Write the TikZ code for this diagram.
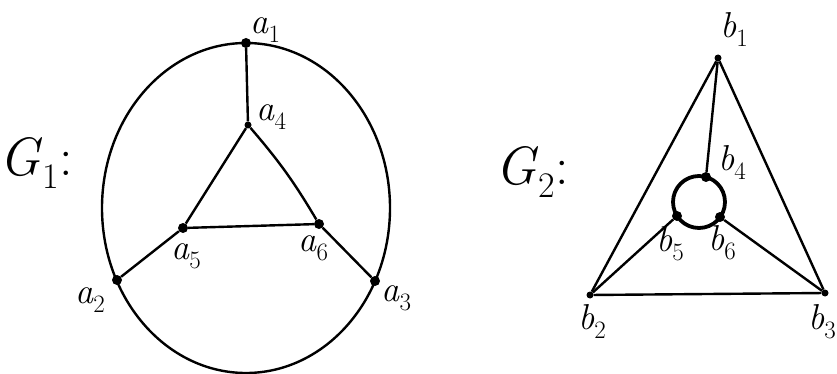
\documentclass[tikz,border=0pt]{standalone}
\usepackage{fontspec}
\usetikzlibrary{calc}
\newcommand{\vlab}[2]{\textit{#1}\raisebox{-0.25em}{\fontsize{25}{25}\selectfont #2}}
\newcommand{\glab}[1]{\textit{G}\raisebox{-0.25em}{\fontsize{36}{36}\selectfont #1}:}
\begin{document}
\begin{tikzpicture}[x=1pt,y=-1pt,
  vdot/.style={circle,fill=black,inner sep=0pt,minimum size=10pt},
  sdot/.style={circle,fill=black,inner sep=0pt,minimum size=7pt},
  lbl/.style={inner sep=0pt,font=\fontsize{36}{38}\selectfont},
  glbl/.style={inner sep=0pt,font=\fontsize{54}{56}\selectfont},
  edge/.style={line width=2.4pt},
  ring/.style={line width=3.8pt}]
\useasboundingbox[fill=white] (0,0) rectangle (837,374);
% ---------- G1 ----------
\node[glbl] (g1) at (36,163) {\glab{1}};
\draw[edge] (246,208) ellipse [x radius=144pt, y radius=165pt];
\node[vdot] (a1) at (246,43) {};
\node[vdot] (a2) at (117,280) {};
\node[vdot] (a3) at (375,281) {};
\node[sdot] (a4) at (248,125) {};
\node[vdot] (a5) at (183,228) {};
\node[vdot] (a6) at (319,224) {};
\draw[edge] (a1) -- (a4);
\draw[edge] (a4) -- (a5);
\draw[edge] (a4) to[bend left=5] (a6);
\draw[edge] (a5) -- (a6);
\draw[edge] (a5) -- (a2);
\draw[edge] (a6) -- (a3);
\node[lbl] (la1) at (265,30) {\vlab{a}{1}};
\node[lbl] (la4) at (271,117) {\vlab{a}{4}};
\node[lbl] (la5) at (186,256) {\vlab{a}{5}};
\node[lbl] (la6) at (313,248) {\vlab{a}{6}};
\node[lbl] (la2) at (90,300) {\vlab{a}{2}};
\node[lbl] (la3) at (396,298) {\vlab{a}{3}};
% ---------- G2 ----------
\node[glbl] (g2) at (532,172) {\glab{2}};
\coordinate (c) at (699,202);
\draw[ring] (c) circle [radius=26pt];
\node[sdot] (b1) at (718,58) {};
\node[sdot] (b2) at (590,295) {};
\node[sdot] (b3) at (825,293) {};
\node[vdot] (b4) at (706,177) {};
\node[vdot] (b5) at (677,216) {};
\node[vdot] (b6) at (720,217) {};
\draw[edge] (b1) -- (b2);
\draw[edge] (b1) -- (b3);
\draw[edge] (b2) -- (b3);
\draw[edge] (b1) -- (b4);
\draw[edge] (b5) -- (b2);
\draw[edge] (b6) -- (b3);
\node[lbl] (lb1) at (734,30) {\vlab{b}{1}};
\node[lbl] (lb4) at (732,163) {\vlab{b}{4}};
\node[lbl] (lb5) at (670,244) {\vlab{b}{5}};
\node[lbl] (lb6) at (722,243) {\vlab{b}{6}};
\node[lbl] (lb2) at (592,322) {\vlab{b}{2}};
\node[lbl,anchor=east] (lb3) at (836,322) {\vlab{b}{3}};
\end{tikzpicture}
\end{document}
